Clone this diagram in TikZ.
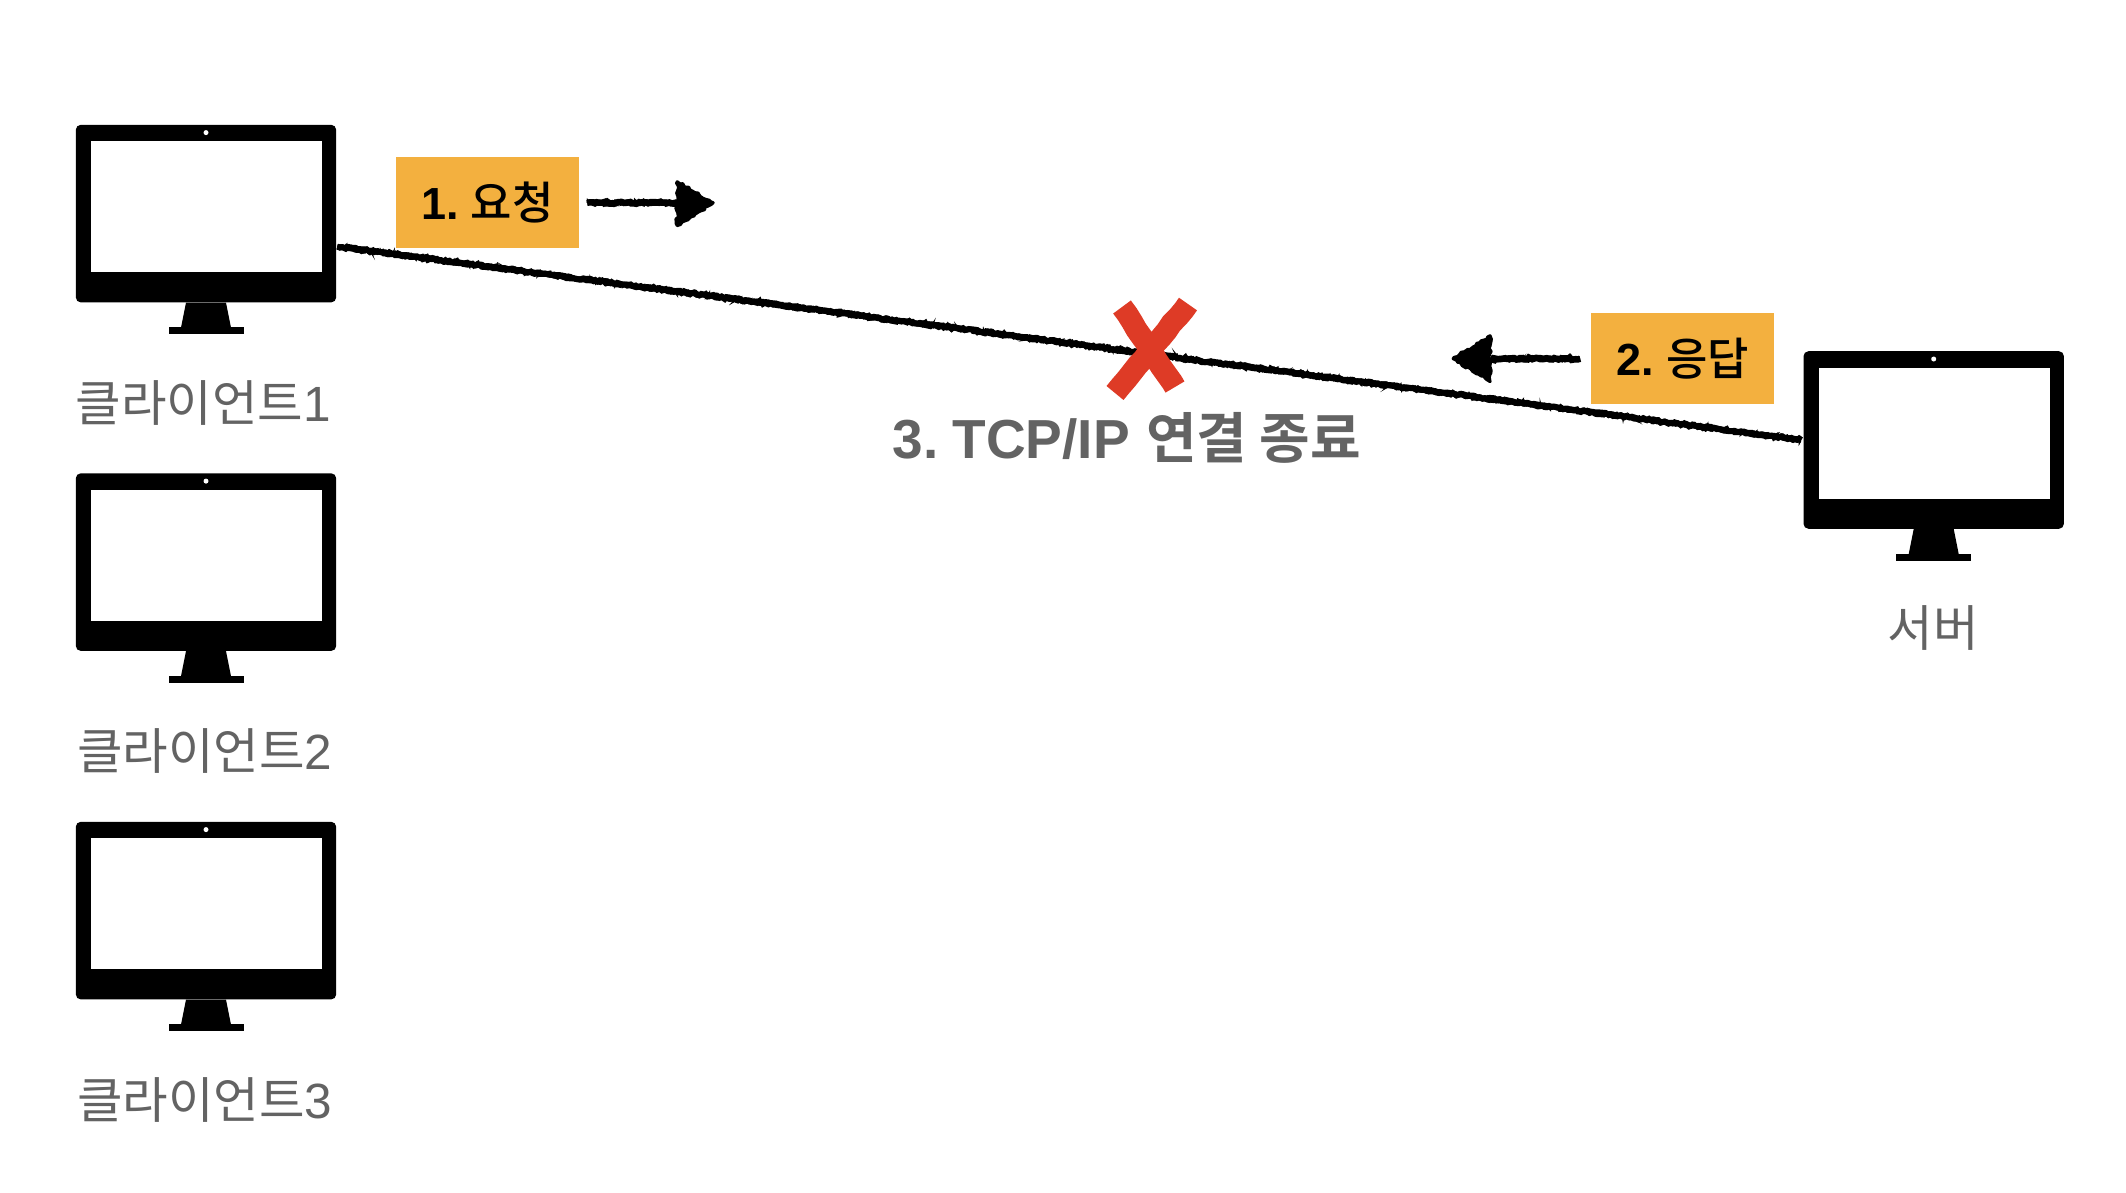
\documentclass[tikz,border=0pt]{standalone}
\usepackage{fontspec}
\usetikzlibrary{calc,decorations.pathmorphing}
\newfontfamily\krfont{Noto Sans CJK KR}
\newfontfamily\krbold{Noto Sans CJK KR Medium}
\newfontfamily\krheavy{Noto Sans CJK KR Bold}
\newfontfamily\lafont{Liberation Sans}
\newfontfamily\labold{Liberation Sans Bold}
\definecolor{boxorange}{HTML}{F3B03F}
\definecolor{crossred}{HTML}{DE3B26}
\definecolor{labelgray}{HTML}{636363}
\tikzset{
  monitorbody/.style={fill=black,rounded corners=5pt,minimum width=260.4pt,minimum height=177.6pt,inner sep=0pt},
  monitorscreen/.style={fill=white,minimum width=231pt,minimum height=131pt,inner sep=0pt},
  devlabel/.style={text=labelgray,font=\fontsize{49.5pt}{55pt}\selectfont,inner sep=0pt},
  stepboxx/.style={fill=boxorange,minimum width=183pt,minimum height=91pt,inner sep=0pt,font=\fontsize{45pt}{50pt}\selectfont},
  rough/.style={draw=black,line width=#1,decorate,decoration={random steps,segment length=2.5pt,amplitude=1.2pt}},
  chalk/.style={draw=black,line width=1.6pt,dash pattern=on 5pt off 4pt,decorate,decoration={random steps,segment length=2pt,amplitude=3.4pt}},
  roughtip/.style={draw=black,fill=black,line width=3pt,line join=round,decorate,decoration={random steps,segment length=3pt,amplitude=1.4pt}},
  crossstroke/.style={draw=crossred,line width=22pt,decorate,decoration={random steps,segment length=9pt,amplitude=0.6pt}},
}
\newcommand{\monitor}[3]{%
  \node[monitorbody] (#1) at (#2,#3) {};
  \node[monitorscreen,anchor=north] (#1s) at ([xshift=0.7pt,yshift=-16.6pt]#1.north) {};
  \node[circle,fill=white,minimum size=5pt,inner sep=0pt] (#1c) at ([yshift=-8pt]#1.north) {};
  \fill[black] ([xshift=-20pt]#1.south) -- ([xshift=20pt]#1.south) -- ([xshift=25pt,yshift=-25pt]#1.south) -- ([xshift=-25pt,yshift=-25pt]#1.south) -- cycle;
  \fill[black] ([xshift=-37.5pt,yshift=-24.5pt]#1.south) rectangle ([xshift=37.5pt,yshift=-31.5pt]#1.south);
}
\begin{document}
\begin{tikzpicture}[x=1pt,y=-1pt]
\useasboundingbox (0,0) rectangle (2126,1192);
\pgfmathsetseed{42}
\monitor{cA}{206}{213.6}
\monitor{cB}{206}{562.1}
\monitor{cC}{206}{910.6}
\monitor{srv}{1933.7}{440}
\node[devlabel] (lA) at (203.4,402.7) {{\krfont 클라이언트}{\lafont 1}};
\node[devlabel] (lB) at (204.8,751.2) {{\krfont 클라이언트}{\lafont 2}};
\node[devlabel] (lC) at (204.8,1099.7) {{\krfont 클라이언트}{\lafont 3}};
\node[devlabel] (lS) at (1933,628) {\krfont 서버};
\node[stepboxx] (req) at (487.5,202.7) {{\labold 1.\hspace{0.27em}}{\krbold 요청}};
\node[stepboxx] (res) at (1682.8,358.7) {{\labold 2.\hspace{0.27em}}{\krbold 응답}};
\coordinate (connA) at ([xshift=1pt,yshift=-33pt]cA.east);
\coordinate (connB) at ([xshift=-2pt]srv.west);
\foreach \w in {6pt,5pt,5.5pt} \draw[rough=\w] (connA) -- (connB);
\draw[chalk] (connA) -- (connB);
% request arrow
\coordinate (reqbase) at ([xshift=100pt]req.east);
\coordinate (reqtip) at ([xshift=134pt]req.east);
\foreach \w in {6.5pt,5.5pt} \draw[rough=\w] ([xshift=8pt]req.east) -- (reqbase);
\draw[chalk] ([xshift=8pt]req.east) -- (reqbase);
\path[roughtip] ($(reqbase)+(-2,-21)$) -- (reqtip) -- ($(reqbase)+(-2,23)$) -- cycle;
% response arrow
\coordinate (resbase) at ([xshift=-101pt]res.west);
\coordinate (restip) at ([xshift=-138pt]res.west);
\foreach \w in {6.5pt,5.5pt} \draw[rough=\w] ([xshift=-11pt]res.west) -- (resbase);
\draw[chalk] ([xshift=-11pt]res.west) -- (resbase);
\path[roughtip] ($(resbase)+(0,-23)$) -- (restip) -- ($(resbase)+(0,23)$) -- cycle;
% cross
\coordinate (xa) at (1115,393);
\coordinate (xb) at (1188,304);
\coordinate (xc) at (1122,307);
\coordinate (xd) at (1175,387);
\draw[crossstroke] (xa) -- (xb);
\draw[crossstroke] (xc) -- (xd);
\node[text=labelgray,inner sep=0pt,font=\fontsize{55pt}{60pt}\selectfont] (lX) at (1127,438) {{\labold 3.\hspace{0.25em}TCP/IP\hspace{0.3em}}{\krheavy 연결 종료}};
\end{tikzpicture}
\end{document}
